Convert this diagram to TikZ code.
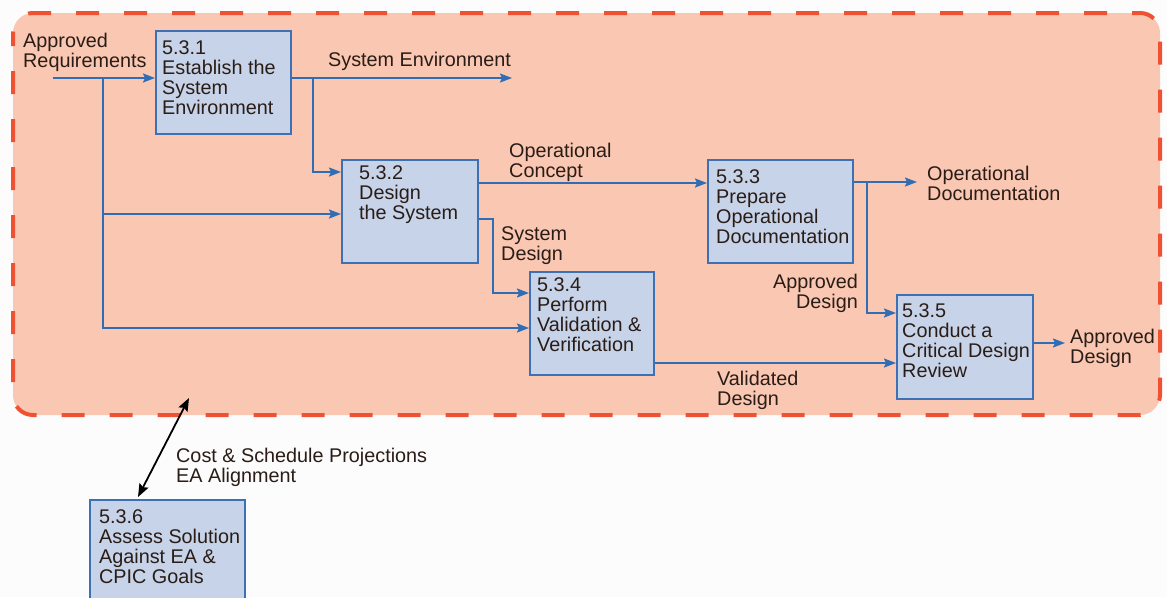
\documentclass[tikz,border=0pt]{standalone}
\usepackage{fontspec}
\setmainfont{Liberation Sans}
\usetikzlibrary{arrows.meta,calc}

\definecolor{pagebg}{HTML}{FCFCFC}
\definecolor{zonefill}{HTML}{F9C7B2}
\definecolor{zonedash}{HTML}{EE5232}
\definecolor{boxfill}{HTML}{C6D3E8}
\definecolor{boxline}{HTML}{3E70B4}
\definecolor{flowblue}{HTML}{2F6DB5}
\definecolor{inktext}{HTML}{2A1C16}

\tikzset{
  procbox/.style={draw=boxline, fill=boxfill, line width=2pt, rectangle,
    anchor=north west, inner sep=0pt},
  boxtext/.style={anchor=north west, inner sep=0pt, align=left,
    text=inktext, font=\fontsize{19.8}{20}\selectfont},
  lbl/.style={boxtext},
  lblr/.style={anchor=north east, inner sep=0pt, align=right,
    text=inktext, font=\fontsize{19.8}{20}\selectfont},
  flow/.style={draw=flowblue, line width=1.8pt,
    -{Stealth[length=12pt,width=9pt,inset=2pt]}},
  link/.style={draw=black, line width=1.8pt,
    {Stealth[length=13pt,width=10pt,inset=2pt]}-{Stealth[length=13pt,width=10pt,inset=2pt]}}
}

\begin{document}
\begin{tikzpicture}[x=1pt,y=-1pt]
  % page
  \fill[pagebg] (0,0) rectangle (1167,597);
  \useasboundingbox (0,0) rectangle (1167,597);

  % design zone
  \draw[fill=zonefill, draw=zonedash, line width=4pt, rounded corners=20pt,
        dash pattern=on 23pt off 25pt, dash phase=10pt]
    (13,13) rectangle (1160,415);

  % process boxes
  \node[procbox, minimum width=135pt, minimum height=103pt] (b1) at (155,30) {};
  \node[procbox, minimum width=136pt, minimum height=103pt] (b2) at (341,159) {};
  \node[procbox, minimum width=145pt, minimum height=103pt] (b3) at (707,159) {};
  \node[procbox, minimum width=124pt, minimum height=103pt] (b4) at (529,271) {};
  \node[procbox, minimum width=136pt, minimum height=104pt] (b5) at (896,294) {};
  \node[procbox, minimum width=155pt, minimum height=110pt] (b6) at (89,499) {};

  \node[boxtext] (t1) at (162,40) {5.3.1\\Establish the\\System\\Environment};
  \node[boxtext] (t2) at (359,165) {5.3.2\\Design\\the System};
  \node[boxtext] (t3) at (716,169) {5.3.3\\Prepare\\Operational\\Documentation};
  \node[boxtext] (t4) at (537,277) {5.3.4\\Perform\\Validation \&\\Verification};
  \node[boxtext] (t5) at (902,303) {5.3.5\\Conduct a\\Critical Design\\Review};
  \node[boxtext] (t6) at (99,509) {5.3.6\\Assess Solution\\Against EA \&\\CPIC Goals};

  % flow labels
  \node[lbl] (lreq) at (23,33) {Approved\\Requirements};
  \node[lbl] (lenv) at (328,52) {System Environment};
  \node[lbl] (lcon) at (509,143) {Operational\\Concept};
  \node[lbl] (lsd) at (501,226) {System\\Design};
  \node[lbl] (lod) at (927,166) {Operational\\Documentation};
  \node[lblr] (lad) at (858,274) {Approved\\Design};
  \node[lbl] (lvd) at (717,371) {Validated\\Design};
  \node[lbl] (lout) at (1070,329) {Approved\\Design};
  \node[lbl] (lcost) at (176,448) {Cost \& Schedule Projections\\EA Alignment};

  % junctions and free ends
  \coordinate (reqstart) at (53,78);
  \coordinate (jreq) at (103,78);
  \coordinate (jenv) at (313,78);
  \coordinate (envend) at (512,78);
  \coordinate (jdoc) at (867,182);
  \coordinate (docend) at (917,182);
  \coordinate (zonept) at (189,398);

  % connectors
  \draw[flow] (reqstart) -- (reqstart -| b1.west);
  \draw[flow] (jreq) |- ($(b4.north west)+(0,57)$);
  \draw[flow] (jreq |- {$(b2.north west)+(0,55)$}) -- ($(b2.north west)+(0,55)$);
  \draw[flow] (b1.east |- jreq) -- (envend);
  \draw[flow] (jenv) |- ($(b2.north west)+(0,13)$);
  \draw[flow] ($(b2.north east)+(0,24)$) -- ($(b3.north west)+(0,24)$);
  \draw[flow] ($(b2.north east)+(0,60)$) -- ++(14,0) |- ($(b4.north west)+(0,22)$);
  \draw[flow] ($(b4.north east)+(0,92)$) -- (b5.west |- {$(b4.north east)+(0,92)$});
  \draw[flow] (b3.east |- jdoc) -- (docend);
  \draw[flow] (jdoc) |- ($(b5.north west)+(0,19)$);
  \draw[flow] ($(b5.north east)+(0,49)$) -- ++(31,0);
  \draw[link] ($(b6.north west)+(49,-2)$) -- (zonept);
\end{tikzpicture}
\end{document}
